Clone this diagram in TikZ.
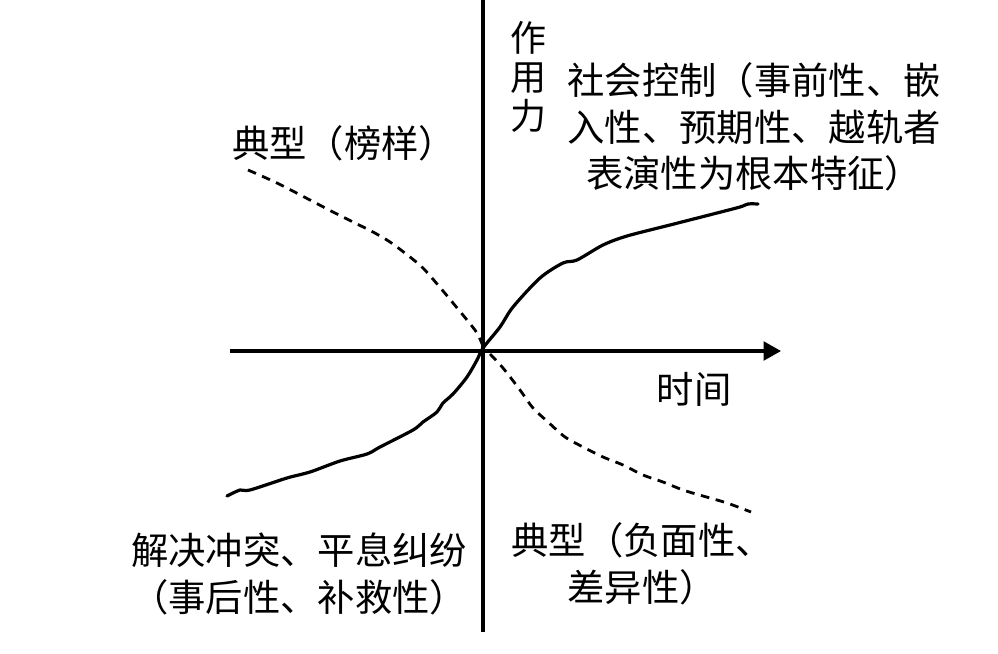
\documentclass[tikz,border=0pt]{standalone}
\usepackage{fontspec}
\setmainfont{Noto Sans CJK SC}
\usetikzlibrary{arrows.meta}
\begin{document}
\begin{tikzpicture}[x=0.75pt,y=-0.75pt,
  axis/.style={line width=2.3pt},
  solidcurve/.style={line width=2.4pt,line join=round,line cap=round},
  dashcurve/.style={line width=2.1pt,dash pattern=on 6.5pt off 5pt},
  lbl/.style={inner sep=0pt,align=center,font=\fontsize{28}{35}\selectfont},
  vlbl/.style={inner sep=0pt,align=center,font=\fontsize{27}{29}\selectfont}]
\useasboundingbox (0,0) rectangle (998,653);
% axes
\coordinate (ytop) at (483,0);
\coordinate (ybot) at (483,632);
\coordinate (xl) at (230,351);
\coordinate (xr) at (781,351);
\draw[axis] (ytop) -- (ybot);
\draw[axis,-{Triangle[length=13pt,width=14pt]}] (xl) -- (xr);
% solid curve
\draw[solidcurve] plot[smooth,tension=0.5] coordinates {
 (227,496) (240,490) (250,490) (287,478) (310,472) (340,461) (367,454)
 (380,447) (413,430) (423,422) (437,412) (443,403) (453,394) (467,377)
 (477,360) (483,348) (500,327) (513,307) (540,278) (563,263) (577,260)
 (603,245) (627,236) (670,225) (717,213) (740,207) (748,204) (758,204)};
% dashed curves
\draw[dashcurve] plot[smooth,tension=0.5] coordinates {
 (248,170) (277,183) (310,200) (333,212) (353,222) (373,232) (390,242)
 (410,257) (423,268) (438,285) (453,303) (467,320) (477,333) (483,346)};
\draw[dashcurve] plot[smooth,tension=0.5] coordinates {
 (490,354) (503,368) (520,390) (533,408) (548,422) (565,437) (583,447)
 (603,457) (623,465) (643,475) (663,482) (683,490) (703,496) (727,503) (751,512)};
% labels
\node[vlbl] (force) at (528,77) {作\\用\\力};
\node[lbl] (ctrl) at (754,127) {社会控制（事前性、嵌\\入性、预期性、越轨者\\表演性为根本特征）};
\node[lbl] (model) at (344,143) {典型（榜样）};
\node[lbl] (time) at (694,389) {时间};
\node[lbl] (resolve) at (299,574) {解决冲突、平息纠纷\\（事后性、补救性）};
\node[lbl] (neg) at (642,564) {典型（负面性、\\差异性）};
\end{tikzpicture}
\end{document}
